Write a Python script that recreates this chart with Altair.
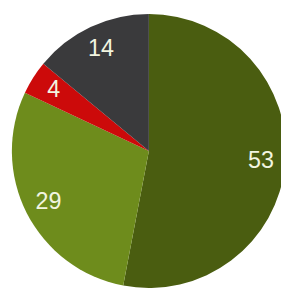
import altair as alt
import pandas as pd

categories = ["A", "B", "C", "D"]
values = [53, 29, 4, 14]
colors = ["#4a5d10", "#6e8c1c", "#cc0a0a", "#3a3a3c"]

df = pd.DataFrame({"cat": categories, "value": values, "order": list(range(len(values)))})

base = alt.Chart(df).encode(
    theta=alt.Theta("value:Q", stack=True),
    order=alt.Order("order:Q"),
)

pie = base.mark_arc(stroke=None).encode(
    color=alt.Color("cat:N", scale=alt.Scale(domain=categories, range=colors), legend=None),
    radius=alt.value(141),
    x=alt.value(145),
    y=alt.value(143),
)

labels = base.mark_text(
    font="Liberation Sans", fontSize=24, color="#f2f5e0"
).encode(
    text=alt.Text("value:Q"),
    radius=alt.value(116),
    x=alt.value(145),
    y=alt.value(143),
)

chart = (pie + labels).properties(
    width=281, height=283, autosize=alt.AutoSizeParams(type="none"), padding=0
).configure_view(stroke=None)

chart.save("out.html", embed_options={"renderer": "svg", "actions": False})
